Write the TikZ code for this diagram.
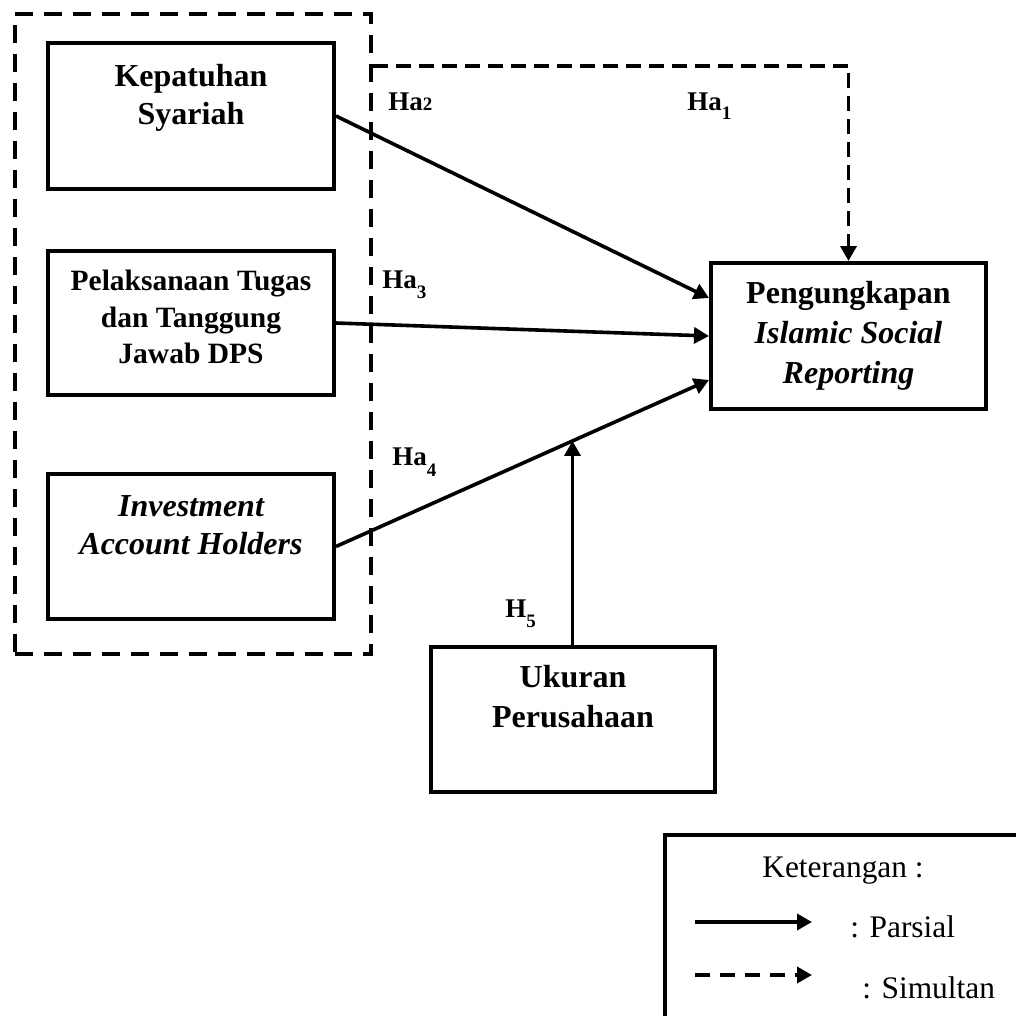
\documentclass[tikz,border=0pt]{standalone}
\usepackage{fontspec}
\setmainfont{Liberation Serif}
\usetikzlibrary{arrows.meta,calc}
\begin{document}
\begin{tikzpicture}[x=0.5pt,y=-0.5pt,
 box/.style={draw, line width=2pt, inner sep=0pt},
 grpbox/.style={draw, line width=2pt, inner sep=0pt, dash pattern=on 9pt off 5.5pt},
 txt/.style={align=center, inner sep=0pt, anchor=north, font=\fontsize{16}{19}\selectfont\bfseries},
 arr/.style={line width=1.8pt, -{Triangle[length=7.5pt,width=8pt]}},
 darr/.style={arr, dash pattern=on 7.5pt off 4pt},
 ldarr/.style={arr, dash pattern=on 7.5pt off 5pt},
 lab/.style={anchor=base west, inner sep=0pt, font=\fontsize{13.5}{13.5}\selectfont\bfseries},
 leg/.style={inner sep=0pt, font=\fontsize{15.7}{16}\selectfont},
]
\useasboundingbox (0,0) rectangle (1016,1016);
\fill[white] (0,0) rectangle (1016,1016);

% group box
\node[grpbox, minimum width=178pt, minimum height=320pt] (grp) at (193,334) {};

% boxes
\node[box, minimum width=143pt, minimum height=73pt] (k) at (191,116) {};
\node[box, minimum width=143pt, minimum height=72pt] (p) at (191,323) {};
\node[box, minimum width=143pt, minimum height=72.5pt] (i) at (191,546.5) {};
\node[box, minimum width=137.5pt, minimum height=73pt] (t) at (848.5,336) {};
\node[box, minimum width=142pt, minimum height=72.5pt] (u) at (573,719.5) {};

% texts
\node[txt] (kt) at (191,64) {Kepatuhan\\Syariah};
\node[txt, font=\fontsize{14.75}{18.25}\selectfont\bfseries] (pt) at (191,270) {Pelaksanaan Tugas\\dan Tanggung\\Jawab DPS};
\node[txt] (it) at (191,495) {\itshape Investment\\\itshape Account Holders};
\node[txt, font=\fontsize{16}{20}\selectfont\bfseries] (tt) at (848.5,281) {Pengungkapan\\\itshape Islamic Social\\\itshape Reporting};
\node[txt, font=\fontsize{16}{20}\selectfont\bfseries] (ut) at (573,665) {Ukuran\\Perusahaan};

% connectors
\draw[arr] (k.east) -- ([yshift=19pt]t.west);
\draw[arr] (p.east) -- (t.west);
\draw[arr] (i.east) -- ([yshift=-22pt]t.west);
\coordinate (m) at ($(i.east)!0.634!([yshift=-22pt]t.west)$);
\draw[arr] (m |- u.north) -- (m);
\coordinate (c1) at (848.5,66);
\draw[darr] (grp.east |- c1) -- (c1) -- (t.north);

% labels
\node[lab] (ha2) at (388,111) {Ha{\fontsize{9.5}{9.5}\selectfont 2}};
\node[lab] (ha1) at (687,111) {Ha\raisebox{-4.5pt}{\fontsize{9.5}{9.5}\selectfont 1}};
\node[lab] (ha3) at (382,288) {Ha\raisebox{-5pt}{\fontsize{9.5}{9.5}\selectfont 3}};
\node[lab] (ha4) at (392,465) {Ha\raisebox{-5.5pt}{\fontsize{9.5}{9.5}\selectfont 4}};
\node[lab] (h5) at (505,617) {H\raisebox{-5pt}{\fontsize{9.5}{9.5}\selectfont 5}};

% legend
\begin{scope}
\clip (0,0) rectangle (1016,1016);
\draw[line width=2pt] (665,1040) -- (665,835) -- (1040,835);
\end{scope}
\node[leg, anchor=base] (ket) at (843,877) {Keterangan :};
\coordinate (l1a) at (695,922);
\coordinate (l1b) at (812,922);
\coordinate (l2a) at (695,975);
\coordinate (l2b) at (812,975);
\draw[arr] (l1a) -- (l1b);
\draw[ldarr] (l2a) -- (l2b);
\node[leg, anchor=base west] (par) at (850,937) {: Parsial};
\node[leg, anchor=base west] (sim) at (862,998) {: Simultan};
\end{tikzpicture}
\end{document}
